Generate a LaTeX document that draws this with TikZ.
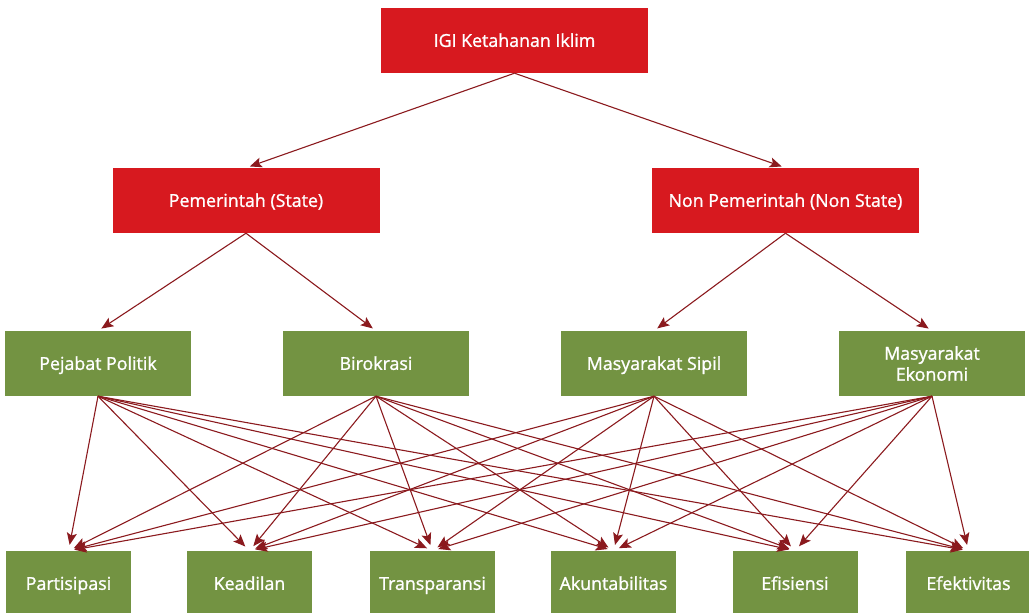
\documentclass[tikz,border=0pt]{standalone}
\usepackage{fontspec}
\setmainfont{Open Sans}
\newfontfamily\labelfont{Open Sans}[FakeBold=1.2]
\usetikzlibrary{arrows.meta}
\definecolor{boxred}{HTML}{D7191F}
\definecolor{boxgreen}{HTML}{739342}
\definecolor{linkred}{HTML}{8B1A1E}
\begin{document}
\begin{tikzpicture}[x=1pt,y=-1pt,
  boxtext/.style={text=white,inner sep=0pt,text height=12.7pt,text depth=0pt,font=\labelfont\fontsize{17.8}{21}\selectfont},
  twolines/.style={text height=,text depth=,align=center},
  redbox/.style={boxtext,fill=boxred,minimum width=267pt,minimum height=65pt},
  greenbox/.style={boxtext,fill=boxgreen,minimum width=186pt,minimum height=65pt},
  leafbox/.style={boxtext,fill=boxgreen,minimum width=125pt,minimum height=65pt},
  link/.style={draw=linkred,line width=1.1pt,-{Stealth[length=12pt,width=10pt,inset=2.5pt]},shorten >=4pt}]
\useasboundingbox (0,0) rectangle (1029,613);
% top level
\node[redbox] (root) at (514.5,40.5) {IGI Ketahanan Iklim};
% state / non-state
\node[redbox] (state) at (246,200.5) {Pemerintah (State)};
\node[redbox] (nonstate) at (785.5,200.5) {Non Pemerintah (Non State)};
% actors
\node[greenbox] (pejabat) at (98,363.5) {Pejabat Politik};
\node[greenbox] (birokrasi) at (376,363.5) {Birokrasi};
\node[greenbox] (sipil) at (654,363.5) {Masyarakat Sipil};
\node[greenbox,twolines] (ekonomi) at (932,363.5) {Masyarakat\\Ekonomi};
% principles
\node[leafbox] (partisipasi) at (68.5,583.5) {Partisipasi};
\node[leafbox] (keadilan) at (249.5,583.5) {Keadilan};
\node[leafbox] (transparansi) at (432.5,583.5) {Transparansi};
\node[leafbox] (akuntabilitas) at (613.5,583.5) {Akuntabilitas};
\node[leafbox] (efisiensi) at (795,583.5) {Efisiensi};
\node[leafbox] (efektivitas) at (968.5,583.5) {Efektivitas};
% links
\draw[link] (root.south) -- (state.north);
\draw[link] (root.south) -- (nonstate.north);
\draw[link] (state.south) -- (pejabat.north);
\draw[link] (state.south) -- (birokrasi.north);
\draw[link] (nonstate.south) -- (sipil.north);
\draw[link] (nonstate.south) -- (ekonomi.north);
\foreach \s in {pejabat,birokrasi,sipil,ekonomi}
  \foreach \t in {partisipasi,keadilan,transparansi,akuntabilitas,efisiensi,efektivitas}
    \draw[link,shorten >=6pt] (\s.south) -- (\t.north);
\end{tikzpicture}
\end{document}
